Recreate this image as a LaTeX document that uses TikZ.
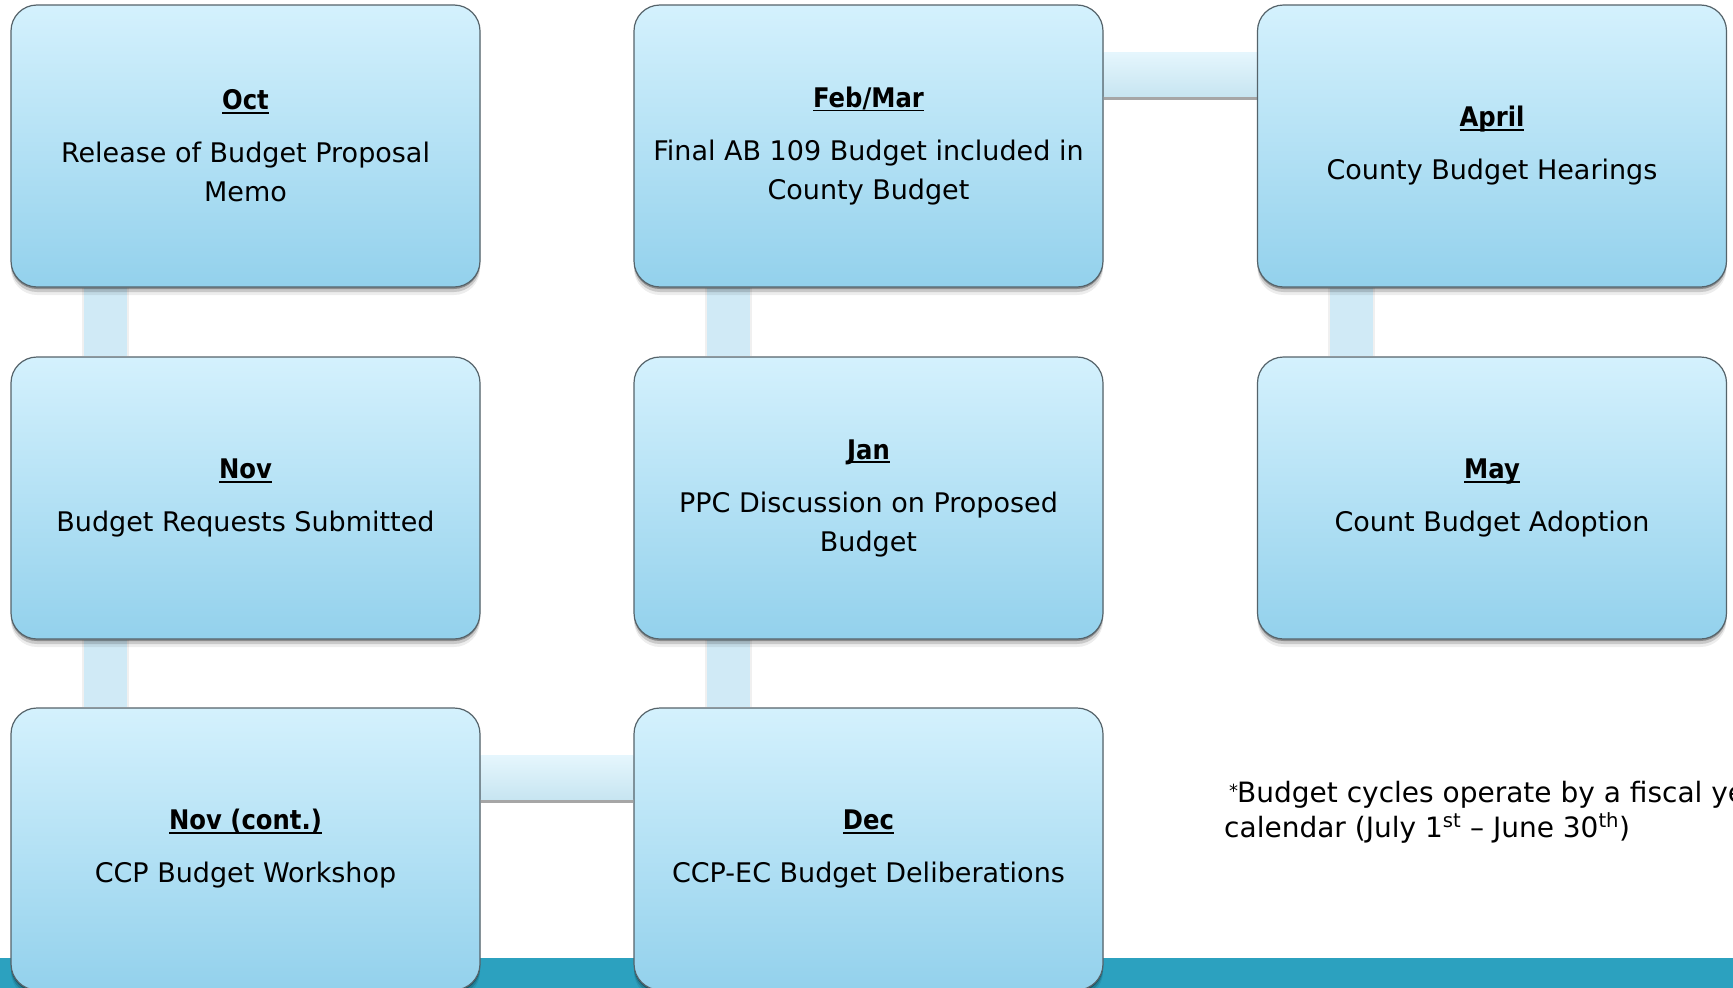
\documentclass[tikz,border=0pt]{standalone}
\usepackage{fontspec}
\setmainfont{DejaVu Sans}
\newfontfamily\titlefont{DejaVu Sans}[FakeStretch=0.9]
\usetikzlibrary{shadows}

\definecolor{boxtop}{HTML}{D4F1FD}
\definecolor{boxbot}{HTML}{93D1EC}
\definecolor{boxline}{HTML}{55636A}
\definecolor{barcol}{HTML}{D0EAF6}
\definecolor{bartop}{HTML}{E5F6FD}
\definecolor{barbot}{HTML}{C7E5F1}
\definecolor{tealbar}{HTML}{2CA1BF}

\pgfdeclarelayer{bottomlayer}
\pgfdeclarelayer{connlayer}
\pgfsetlayers{bottomlayer,connlayer,main}

\newcommand{\ttl}[1]{\setbox0=\hbox{\titlefont\bfseries #1}\rlap{\rule[-4pt]{\wd0}{1.6pt}}\box0}

\tikzset{
  stage/.style={rounded corners=26pt, draw=boxline, line width=1.2pt,
    top color=boxtop, bottom color=boxbot,
    minimum width=469pt, minimum height=282pt, inner sep=0pt,
    align=center, font=\fontsize{27}{39}\selectfont,
    drop shadow={shadow xshift=0pt, shadow yshift=-2pt, opacity=.30, fill=black},
    drop shadow={shadow xshift=0pt, shadow yshift=-5pt, opacity=.15, fill=black},
    drop shadow={shadow xshift=0pt, shadow yshift=-8pt, opacity=.07, fill=black}},
  vbar/.style={draw=barcol, line width=43pt, line cap=butt,
    preaction={draw=black, opacity=.06, line width=47pt}},
  hbar/.style={top color=bartop, bottom color=barbot,
    drop shadow={shadow xshift=0pt, shadow yshift=-4pt, opacity=.35, fill=black}},
  fn/.style={inner sep=0pt, font=\fontsize{28}{35}\selectfont}
}

\begin{document}
\begin{tikzpicture}[x=1pt, y=-1pt]
\useasboundingbox (0,0) rectangle (1733,988);
\clip (0,0) rectangle (1733,988);
\begin{pgfonlayer}{bottomlayer}
\fill[white] (0,0) rectangle (1733,988);
\fill[tealbar] (0,958) rectangle (1733,988);
\end{pgfonlayer}

\path
  (245.5,146) node[stage] (oct) {\ttl{Oct}\\[14pt]Release of Budget Proposal\\Memo}
  (868.5,146) node[stage] (feb) {\ttl{Feb/Mar}\\[14pt]Final AB 109 Budget included in\\County Budget}
  (1492,146)  node[stage] (apr) {\ttl{April}\\[14pt]County Budget Hearings}
  (245.5,498) node[stage] (nov) {\ttl{Nov}\\[14pt]Budget Requests Submitted}
  (868.5,498) node[stage] (jan) {\ttl{Jan}\\[14pt]PPC Discussion on Proposed\\Budget}
  (1492,498)  node[stage] (may) {\ttl{May}\\[14pt]Count Budget Adoption}
  (245.5,849) node[stage] (novc) {\ttl{Nov (cont.)}\\[14pt]CCP Budget Workshop}
  (868.5,849) node[stage] (dec) {\ttl{Dec}\\[14pt]CCP-EC Budget Deliberations};

\begin{pgfonlayer}{connlayer}
\draw[vbar] ([xshift=95pt]oct.south west) -- ([xshift=95pt]nov.north west);
\draw[vbar] ([xshift=95pt]nov.south west) -- ([xshift=95pt]novc.north west);
\draw[vbar] ([xshift=95pt]jan.south west) -- ([xshift=95pt]dec.north west);
\draw[vbar] ([xshift=95pt]feb.south west) -- ([xshift=95pt]jan.north west);
\draw[vbar] ([xshift=95pt]apr.south west) -- ([xshift=95pt]may.north west);
\path[hbar] ([yshift=-48pt]novc.north east) rectangle ([yshift=-92pt]dec.north west);
\path[hbar] ([yshift=-48pt]feb.north east) rectangle ([yshift=-92pt]apr.north west);
\end{pgfonlayer}

\node[fn, anchor=base west] (fn1) at (1224,802)
  {\hspace{5pt}\raisebox{5pt}{\fontsize{18}{18}\selectfont *}\kern-1pt Budget cycles operate by a fiscal year};
\node[fn, anchor=base west] (fn2) at (1224,837)
  {calendar (July 1\textsuperscript{st} – June 30\textsuperscript{th})};
\end{tikzpicture}
\end{document}
